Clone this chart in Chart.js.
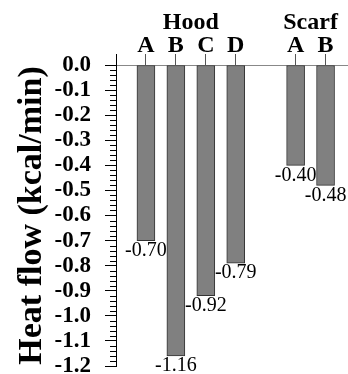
<!DOCTYPE html>
<html>
<head>
<meta charset="utf-8">
<script src="https://cdn.jsdelivr.net/npm/chart.js@4.4.1/dist/chart.umd.min.js"></script>
<style>
  html, body { margin: 0; padding: 0; background: #fff; }
  #wrap { width: 348px; height: 374px; }
</style>
</head>
<body>
<div id="wrap"><canvas id="heat" width="348" height="374"></canvas></div>
<script>
// Heat flow per garment variant
const groupNames = ['Hood', 'Scarf'];
const hoodCodes = ['A', 'B', 'C', 'D'];
const hoodValues = [-0.70, -1.16, -0.92, -0.79];
const scarfCodes = ['A', 'B'];
const scarfValues = [-0.40, -0.48];
const yTicks = [0.0, -0.1, -0.2, -0.3, -0.4, -0.5, -0.6, -0.7, -0.8, -0.9, -1.0, -1.1, -1.2];
const minorStep = 0.02;

const serif = "'Liberation Serif', 'Times New Roman', serif";

// one slot per bar, an empty slot between the two groups
const hoodSlots = hoodCodes.map((c, i) => i + 1);
const scarfSlots = scarfCodes.map((c, i) => hoodCodes.length + 2 + i);
const points = hoodSlots.map((x, i) => ({ x: x, y: hoodValues[i] }))
    .concat(scarfSlots.map((x, i) => ({ x: x, y: scarfValues[i] })));

const codeSlots = [0].concat(hoodSlots, scarfSlots);
const codeNames = [''].concat(hoodCodes, scarfCodes);
const mean = arr => arr.reduce((a, b) => a + b, 0) / arr.length;
const groupSlots = [mean(hoodSlots), mean(scarfSlots)];

// no extra room for overhanging tick labels
function noPadding(s) {
    s.paddingTop = 0;
    s.paddingBottom = 0;
    s.paddingLeft = 0;
    s.paddingRight = 0;
}

const valueLabels = {
    id: 'valueLabels',
    afterDatasetsDraw(chart) {
        const ctx = chart.ctx;
        const meta = chart.getDatasetMeta(0);
        ctx.save();
        ctx.font = '20px ' + serif;
        ctx.fillStyle = '#000';
        ctx.textAlign = 'center';
        ctx.textBaseline = 'top';
        meta.data.forEach((bar, i) => {
            const v = chart.data.datasets[0].data[i].y;
            ctx.fillText(v.toFixed(2), bar.x, bar.y);
        });
        ctx.restore();
    }
};

const minorTicks = {
    id: 'minorTicks',
    afterDraw(chart) {
        const ctx = chart.ctx;
        const y = chart.scales.y;
        const left = chart.chartArea.left;
        const n = Math.round((y.max - y.min) / minorStep);
        ctx.save();
        ctx.strokeStyle = '#000';
        ctx.lineWidth = 1;
        ctx.beginPath();
        for (let i = 0; i <= n; i++) {
            if (i % 5 === 0) continue;
            const py = Math.round(y.getPixelForValue(y.max - i * minorStep)) + 0.5;
            ctx.moveTo(left - 6, py);
            ctx.lineTo(left, py);
        }
        ctx.stroke();
        ctx.restore();
    }
};

new Chart(document.getElementById('heat'), {
    type: 'bar',
    data: {
        datasets: [{
            data: points,
            backgroundColor: '#808080',
            borderColor: '#333',
            borderWidth: 1,
            borderSkipped: false,
            barThickness: 18
        }]
    },
    options: {
        responsive: false,
        animation: false,
        events: [],
        layout: { padding: { top: 0, right: 0, bottom: 8, left: 0 } },
        plugins: { legend: { display: false }, tooltip: { enabled: false } },
        scales: {
            x: {
                type: 'linear',
                position: 'top',
                offset: false,
                min: 0,
                max: 7.75,
                weight: 0,
                afterFit(s) { s.height = 28; noPadding(s); },
                afterBuildTicks(s) { s.ticks = codeSlots.map(v => ({ value: v })); },
                border: { display: true, color: '#888', width: 1 },
                grid: {
                    offset: false,
                    drawOnChartArea: false,
                    drawTicks: true,
                    tickLength: 11,
                    tickColor: c => c.tick && c.tick.value === 0 ? '#000' : '#555'
                },
                ticks: {
                    autoSkip: false,
                    maxRotation: 0,
                    padding: 0,
                    color: '#000',
                    font: { family: serif, size: 24, weight: 'bold', lineHeight: 0.7 },
                    callback: (v, i) => codeNames[i]
                }
            },
            groups: {
                type: 'linear',
                position: 'top',
                offset: false,
                min: 0,
                max: 7.75,
                weight: 1,
                afterFit(s) { s.height = 37; noPadding(s); },
                afterBuildTicks(s) { s.ticks = groupSlots.map(v => ({ value: v })); },
                border: { display: false },
                grid: { display: false, offset: false },
                ticks: {
                    autoSkip: false,
                    maxRotation: 0,
                    padding: -2,
                    color: '#000',
                    font: { family: serif, size: 24, weight: 'bold', lineHeight: 0.7 },
                    callback: (v, i) => groupNames[i]
                }
            },
            y: {
                min: -1.2,
                max: 0,
                afterFit(s) { s.width = 116; noPadding(s); },
                afterBuildTicks(s) { s.ticks = yTicks.map(v => ({ value: v })); },
                border: { display: true, color: '#000', width: 1 },
                grid: { drawOnChartArea: false, drawTicks: true, tickLength: 11, tickColor: '#000' },
                ticks: {
                    autoSkip: false,
                    padding: 14,
                    color: '#000',
                    font: { family: serif, size: 23, weight: 'bold' },
                    callback: v => v.toFixed(1)
                },
                title: {
                    display: true,
                    text: 'Heat flow (kcal/min)',
                    color: '#000',
                    padding: { top: 15, bottom: 0 },
                    font: { family: serif, size: 34, weight: 'bold', lineHeight: 1 }
                }
            }
        }
    },
    plugins: [valueLabels, minorTicks]
});
</script>
</body>
</html>
